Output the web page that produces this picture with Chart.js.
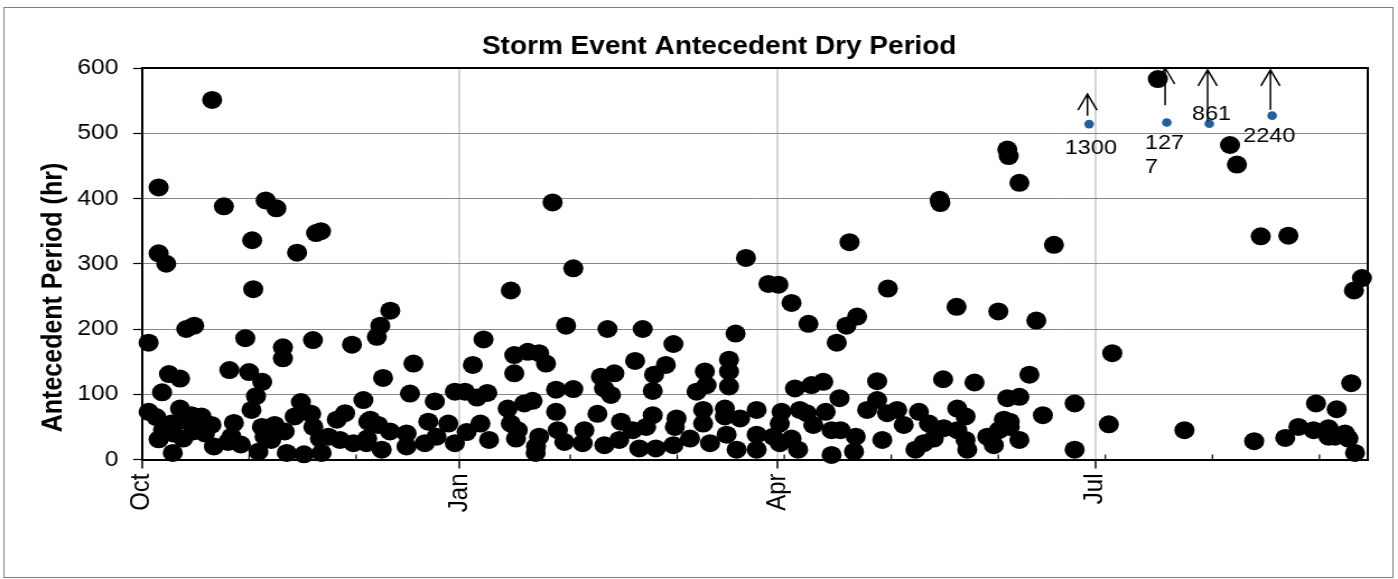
<!DOCTYPE html>
<html>
<head>
<meta charset="utf-8">
<script src="https://cdn.jsdelivr.net/npm/chart.js@4.4.0/dist/chart.umd.min.js"></script>
<style>
  html, body { margin: 0; padding: 0; background: #fff; overflow: hidden; }
  /* the sheet export is a little wider than tall, so stretch the whole chart sideways */
  #wrap { width: 1248px; height: 579px; transform: scaleX(1.1202); transform-origin: 0 0; }
</style>
</head>
<body>
<div id="wrap"><canvas id="dryChart"></canvas></div>
<script>
// day of water year (0 = Oct 1) and antecedent dry period in hours
const eventDay = [
  1.9, 1.9, 4.1, 4.8, 4.8, 4.8, 5.8, 6.1, 7.0, 7.8, 8.5, 8.9, 9.0, 11.0, 11.0, 11.4, 11.9, 12.8, 14.3, 14.8,
  15.1, 16.8, 17.2, 18.2, 20.1, 20.3, 20.8, 23.7, 24.9, 25.3, 25.9, 26.6, 28.6, 29.9, 31.0, 31.7, 31.9, 32.2, 33.0, 33.7,
  34.7, 34.8, 35.5, 35.8, 37.4, 38.4, 38.9, 40.8, 40.8, 41.3, 41.9, 44.2, 44.9, 46.0, 46.9, 49.0, 49.5, 49.6, 50.4, 51.5,
  51.8, 52.0, 54.0, 56.4, 57.3, 58.8, 60.8, 61.2, 64.1, 65.0, 65.2, 65.5, 66.1, 68.0, 68.4, 69.0, 69.4, 69.8, 71.8, 71.9,
  76.6, 76.6, 77.6, 78.6, 81.9, 82.9, 84.8, 85.3, 88.7, 90.6, 90.6, 93.5, 94.0, 95.8, 97.0, 98.0, 98.9, 100.0, 100.5,
  105.9, 106.8, 106.8, 107.8, 107.8, 108.3, 108.8, 110.7, 111.7, 113.1, 114.0, 114.1, 115.0, 115.0, 117.0, 118.9, 119.9, 119.9, 120.4, 122.3,
  122.8, 124.9, 124.9, 127.6, 128.1, 131.9, 132.9, 133.8, 133.9, 134.8, 135.8, 136.8, 138.2, 138.7, 142.1, 142.8, 144.0, 145.0, 146.0, 147.9,
  147.9, 148.3, 148.8, 151.7, 153.9, 153.9, 154.3, 154.8, 158.7, 160.6, 162.5, 162.5, 163.0, 163.5, 164.5, 168.8, 168.8, 169.3, 170.0, 170.0,
  170.0, 171.9, 172.2, 173.2, 174.9, 178.0, 178.0, 178.0, 181.4, 182.8, 184.3, 184.7, 184.7, 185.2, 188.1, 188.1, 189.1, 190.0, 190.5, 192.5,
  193.0, 193.9, 194.4, 197.3, 198.0, 199.7, 199.7, 201.2, 202.0, 202.3, 204.0, 204.9, 206.2, 206.7, 207.1, 210.0, 212.9, 212.9, 214.4, 215.8,
  216.0, 218.7, 220.6, 224.0, 225.0, 226.4, 227.9, 229.3, 231.0, 231.2, 232.0, 232.2, 235.9, 236.1, 236.1, 238.5, 238.5, 239.0, 241.1, 244.8,
  246.7, 248.0, 248.2, 249.6, 250.6, 251.0, 250.6, 251.3, 251.3, 254.1, 254.1, 254.1, 257.0, 259.0, 260.9, 264.1, 270.1, 270.1, 280.0, 281.0,
  294.2, 301.9, 315.1, 317.1, 322.1, 324.0, 331.1, 332.0, 334.9, 339.3, 340.0, 343.6, 343.6, 345.5, 346.0, 348.4, 349.4, 350.2, 351.0, 351.3,
  353.3
];
const dryHours = [
  179, 73, 65, 417, 316, 31, 103, 45, 300, 131, 55, 10, 40, 124, 78, 60, 32, 200, 68, 43,
  205, 61, 66, 40, 53, 551, 20, 388, 27, 137, 35, 56, 23, 186, 134, 76, 336, 261, 97, 12,
  50, 119, 35, 397, 30, 53, 385, 172, 155, 43, 10, 66, 317, 88, 8, 70, 183, 50, 347, 32,
  350, 10, 35, 61, 30, 71, 176, 25, 91, 25, 32, 58, 61, 188, 53, 205, 15, 125, 43, 228,
  40, 20, 101, 147, 25, 58, 89, 35, 55, 25, 104, 104, 42, 145, 95, 55, 184, 102, 30,
  78, 259, 55, 160, 132, 32, 45, 86, 165, 90, 10, 20, 163, 35, 147, 394, 107, 73, 45, 27,
  205, 293, 108, 25, 45, 70, 127, 109, 22, 200, 99, 132, 30, 58, 45, 151, 17, 200, 50, 105,
  68, 130, 17, 145, 177, 22, 50, 63, 32, 104, 76, 55, 135, 114, 25, 78, 66, 38, 153, 135,
  112, 193, 15, 63, 309, 76, 38, 15, 269, 35, 268, 55, 25, 73, 240, 32, 109, 15, 76, 71,
  208, 114, 53, 119, 73, 45, 7, 179, 94, 45, 205, 333, 12, 35, 219, 76, 120, 91, 30, 71,
  262, 76, 53, 15, 73, 25, 55, 32, 398, 393, 123, 48, 234, 78, 45, 66, 30, 15, 118, 35,
  22, 227, 45, 61, 475, 465, 94, 58, 50, 424, 96, 30, 130, 213, 68, 329, 86, 15, 54, 163,
  583, 45, 482, 452, 28, 342, 33, 343, 50, 45, 86, 48, 35, 35, 77, 40, 32, 117, 259, 10,
  278
];

// events longer than the axis: marker height on the plot and the real duration
const offScaleDay = [274.3, 296.8, 309.1, 327.3];
const offScaleMarkY = [514, 516.5, 514.6, 527];
const offScaleText = ['1300', '1277', '861', '2240'];
const offScaleWrap = [0, 3, 0, 0];
const arrowBaseHrs = [527, 543, 518, 536];
const arrowTipHrs = [560, 600, 597, 597];

const majorTickDays = [0, 92, 184, 276];
const majorTickLabels = ['Oct', 'Jan', 'Apr', 'Jul'];
const minorTickDays = [31, 62, 124, 155, 186, 217, 248, 279, 310, 341];

// label placement around each off-scale marker (px)
const labelOffsets = [[1.5, 24], [-19.6, 21], [2, -10], [-2.5, 21]];

const FONT = "'Liberation Sans', Arial, sans-serif";
Chart.defaults.font.family = FONT;
Chart.defaults.color = '#000';

const stormPoints = eventDay.map((d, i) => ({ x: d, y: dryHours[i] }));
const offScalePoints = offScaleDay.map((d, i) => ({ x: d, y: offScaleMarkY[i] }));

const chartFrame = {
    id: 'chartFrame',
    beforeDraw(chart) {
        const ctx = chart.ctx;
        ctx.save();
        ctx.strokeStyle = '#7f7f7f';
        ctx.lineWidth = 1;
        ctx.strokeRect(3.5, 7.5, 1240, 570);
        ctx.restore();
    },
    beforeDatasetsDraw(chart) {
        const { ctx, chartArea: a } = chart;
        const x = chart.scales.x;
        ctx.save();
        ctx.strokeStyle = '#000';
        ctx.lineWidth = 2;
        ctx.beginPath();
        ctx.moveTo(a.left - 1, a.top);
        ctx.lineTo(a.right, a.top);
        ctx.lineTo(a.right, a.bottom + 1);
        ctx.stroke();

        // monthly minor ticks, pointing into the plot
        ctx.lineWidth = 1.2;
        ctx.beginPath();
        minorTickDays.forEach(d => {
            const px = x.getPixelForValue(d);
            ctx.moveTo(px, a.bottom);
            ctx.lineTo(px, a.bottom - 5);
        });
        ctx.stroke();
        ctx.restore();
    },
    afterDatasetsDraw(chart) {
        const ctx = chart.ctx;
        const x = chart.scales.x;
        const y = chart.scales.y;
        ctx.save();

        // arrows showing the value runs off the top of the axis
        ctx.strokeStyle = '#000';
        ctx.lineWidth = 1.5;
        offScaleDay.forEach((d, i) => {
            const px = x.getPixelForValue(d) - 1.5;
            const yb = y.getPixelForValue(arrowBaseHrs[i]);
            const yt = y.getPixelForValue(arrowTipHrs[i]);
            ctx.beginPath();
            ctx.moveTo(px, yb);
            ctx.lineTo(px, yt);
            ctx.moveTo(px - 8.5, yt + 16);
            ctx.lineTo(px, yt);
            ctx.lineTo(px + 8.5, yt + 16);
            ctx.stroke();
        });

        // real durations
        ctx.fillStyle = '#000';
        ctx.font = `21px ${FONT}`;
        ctx.textBaseline = 'middle';
        offScaleText.forEach((t, i) => {
            const px = x.getPixelForValue(offScaleDay[i]) + labelOffsets[i][0];
            const py = y.getPixelForValue(offScaleMarkY[i]) + labelOffsets[i][1];
            const w = offScaleWrap[i];
            if (w > 0) {
                ctx.textAlign = 'left';
                ctx.fillText(t.slice(0, w), px, py);
                ctx.fillText(t.slice(w), px, py + 24);
            } else {
                ctx.textAlign = 'center';
                ctx.fillText(t, px, py);
            }
        });

        // chart title
        ctx.font = `bold 25px ${FONT}`;
        ctx.textAlign = 'center';
        ctx.textBaseline = 'alphabetic';
        ctx.fillText('Storm Event Antecedent Dry Period', 642, 54);

        // value axis title
        ctx.translate(54.5, 297.5);
        ctx.rotate(-Math.PI / 2);
        ctx.fillText('Antecedent Period (hr)', 0, 0);
        ctx.restore();
    }
};

const ctx = document.getElementById('dryChart').getContext('2d');
new Chart(ctx, {
    type: 'scatter',
    data: {
        datasets: [
            {
                label: 'Storm events',
                data: stormPoints,
                backgroundColor: '#000',
                borderWidth: 0,
                pointRadius: 9,
                pointHoverRadius: 9,
                clip: false
            },
            {
                label: 'Off-scale events',
                data: offScalePoints,
                backgroundColor: '#23609a',
                borderWidth: 0,
                pointRadius: 4.3,
                pointHoverRadius: 4.3,
                clip: false
            }
        ]
    },
    options: {
        responsive: true,
        maintainAspectRatio: false,
        animation: false,
        layout: { padding: { top: 68, right: 27, bottom: 0, left: 0 } },
        plugins: {
            legend: { display: false },
            tooltip: { enabled: false },
            title: { display: false }
        },
        scales: {
            x: {
                type: 'linear',
                min: 0,
                max: 355,
                afterBuildTicks: scale => {
                    scale.ticks = majorTickDays.map(v => ({ value: v }));
                },
                afterFit: scale => { scale.height = 119.5; },
                ticks: {
                    autoSkip: false,
                    minRotation: 90,
                    maxRotation: 90,
                    padding: 5,
                    color: '#000',
                    font: { size: 24 },
                    callback: v => majorTickLabels[majorTickDays.indexOf(v)]
                },
                grid: {
                    color: c => (c.tick && c.tick.value === 0 ? 'rgba(0,0,0,0)' : '#d4d4d4'),
                    lineWidth: 2,
                    tickColor: '#000',
                    tickWidth: 1.5,
                    tickLength: 9
                },
                border: { color: '#000', width: 2 }
            },
            y: {
                min: 0,
                max: 600,
                afterFit: scale => { scale.width = 126.8; },
                ticks: {
                    stepSize: 100,
                    padding: 13,
                    color: '#000',
                    font: { size: 22 }
                },
                grid: {
                    color: c => (c.tick && (c.tick.value === 0 || c.tick.value === 600) ? 'rgba(0,0,0,0)' : '#868686'),
                    lineWidth: 1,
                    tickColor: '#000',
                    tickWidth: 1.2,
                    tickLength: 8
                },
                border: { color: '#000', width: 2 }
            }
        }
    },
    plugins: [chartFrame]
});
</script>
</body>
</html>
